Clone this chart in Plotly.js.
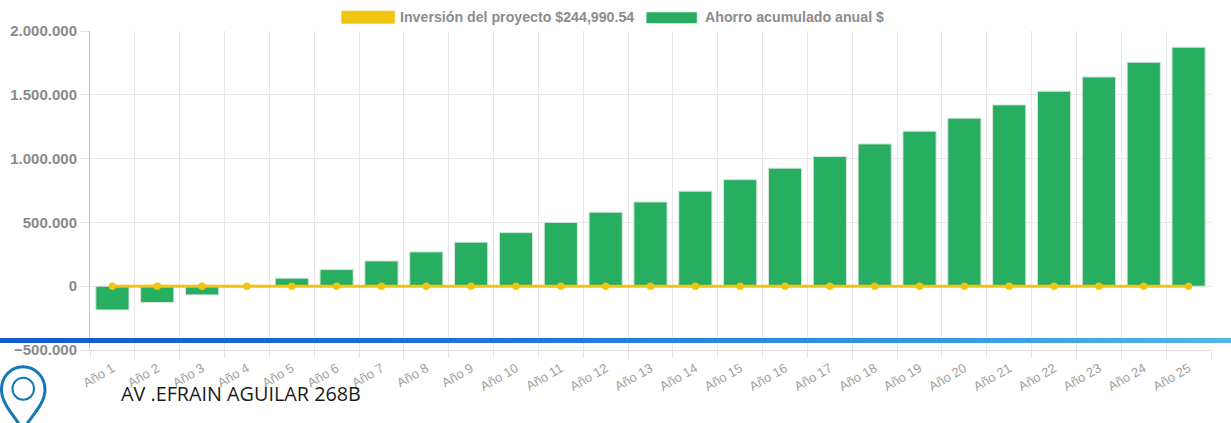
<!DOCTYPE html>
<html>
<head>
<meta charset="utf-8">
<script src="https://cdn.plot.ly/plotly-3.0.1.min.js"></script>
<style>
html,body{margin:0;padding:0;background:#fff;overflow:hidden}
#wrap{position:relative;width:1231px;height:423px}
#chart{position:absolute;left:0;top:0;width:1231px;height:423px}
#band{position:absolute;left:0;top:337.5px;width:1231px;height:5.5px;background:linear-gradient(90deg,#0a52c8 0%,#1470d6 40%,#2a95dc 75%,#4ab4e6 100%);opacity:.96;pointer-events:none}
</style>
</head>
<body>
<div id="wrap">
<div id="chart"></div>
<div id="band"></div>
</div>
<script>
const categories = ["Año 1","Año 2","Año 3","Año 4","Año 5","Año 6","Año 7","Año 8","Año 9","Año 10","Año 11","Año 12","Año 13","Año 14","Año 15","Año 16","Año 17","Año 18","Año 19","Año 20","Año 21","Año 22","Año 23","Año 24","Año 25"];
const ahorro = [-186000,-128000,-68000,-4000,63000,130000,198000,269000,345000,420000,500000,580000,660000,745000,835000,925000,1016000,1115000,1215000,1317000,1421000,1528000,1640000,1755000,1873000];
const inversion = [0,0,0,0,0,0,0,0,0,0,0,0,0,0,0,0,0,0,0,0,0,0,0,0,0];
const yTicks = [-500000,0,500000,1000000,1500000,2000000];
const legendLabels = ["Inversión del proyecto $244,990.54","Ahorro acumulado anual $"];
const address = "AV .EFRAIN AGUILAR 268B";

const W=1231,H=423;
const mL=90,mR=20.3,mT=31,mB=72.7;
const px=x=>(x-mL)/(W-mL-mR), py=y=>(H-mB-y)/(H-mT-mB);
const pinPath = (() => {
  const p=(x,y)=>px(x)+","+py(y);
  return "M"+p(23,430)+" C"+p(14,416)+" "+p(1.5,404)+" "+p(1.5,390)+
    " C"+p(1.5,377)+" "+p(11,367)+" "+p(23,367)+
    " C"+p(35,367)+" "+p(45,377)+" "+p(45,390)+
    " C"+p(45,404)+" "+p(32,416)+" "+p(23,430)+" Z";
})();
const rect=(x0,y0,x1,y1,c)=>({type:"rect",xref:"paper",yref:"paper",x0:px(x0),x1:px(x1),y0:py(y0),y1:py(y1),fillcolor:c,line:{color:"rgba(255,255,255,0.5)",width:1}});
const gray="#8c8c8c";

Plotly.newPlot("chart",[
 {type:"bar",name:legendLabels[1],x:categories,y:ahorro,width:0.74,
  marker:{color:"#27ae60",line:{color:"#d8e4dc",width:1}},hoverinfo:"x+y"},
 {type:"scatter",mode:"lines+markers",name:legendLabels[0],x:categories,y:inversion,
  line:{color:"#f1c40f",width:3},marker:{color:"#f1c40f",size:7.5},hoverinfo:"x+y"}
],{
 width:W,height:H,
 margin:{l:mL,r:mR,t:mT,b:mB,pad:0},
 paper_bgcolor:"#fff",plot_bgcolor:"#fff",
 separators:",.",
 showlegend:false,
 xaxis:{type:"category",categoryorder:"array",categoryarray:categories,range:[-0.5,24.5],
   tickson:"boundaries",ticks:"outside",ticklen:7,tickcolor:"#e4e4e4",tickwidth:1,
   showgrid:true,gridcolor:"#e6e6e6",gridwidth:1,
   showline:true,linecolor:"#e0e0e0",linewidth:1,zeroline:false,ticklabelstandoff:5,
   tickangle:-30,tickfont:{family:"Liberation Sans, Arial, sans-serif",size:13,color:"#a0a0a0"}},
 yaxis:{range:[-500000,2000000],tickmode:"array",tickvals:yTicks,tickformat:",d",
   ticks:"outside",ticklen:9,tickcolor:"#e4e4e4",tickwidth:1,
   showgrid:true,gridcolor:"#e8e8e8",gridwidth:1,
   showline:true,linecolor:"#c4c4c4",linewidth:1,zeroline:false,
   tickfont:{family:"Liberation Sans, Arial, sans-serif",size:15,color:"#8a8a8a",weight:700}},
 shapes:[
  rect(341,10.5,395,24,"#f1c40f"),
  rect(646,12,697,23.5,"#27ae60"),
  {type:"path",xref:"paper",yref:"paper",path:pinPath,fillcolor:"rgba(0,0,0,0)",line:{color:"#1477b8",width:3}},
  {type:"circle",xref:"paper",yref:"paper",x0:px(12.5),x1:px(34),y0:py(400),y1:py(378),fillcolor:"rgba(0,0,0,0)",line:{color:"#1477b8",width:2}}
 ],
 annotations:[
  {xref:"paper",yref:"paper",x:px(397.5),y:py(16.5),xanchor:"left",yanchor:"middle",showarrow:false,text:legendLabels[0],
   font:{family:"Liberation Sans, Arial, sans-serif",size:14.2,color:gray,weight:700}},
  {xref:"paper",yref:"paper",x:px(702.5),y:py(16.5),xanchor:"left",yanchor:"middle",showarrow:false,text:legendLabels[1],
   font:{family:"Liberation Sans, Arial, sans-serif",size:14.2,color:gray,weight:700}},
  {xref:"paper",yref:"paper",x:px(118.5),y:py(394),xanchor:"left",yanchor:"middle",showarrow:false,text:address,
   font:{family:"Open Sans, sans-serif",size:19.8,color:"#1a1a1a"}}
 ]
},{displayModeBar:false});
</script>
</body>
</html>
